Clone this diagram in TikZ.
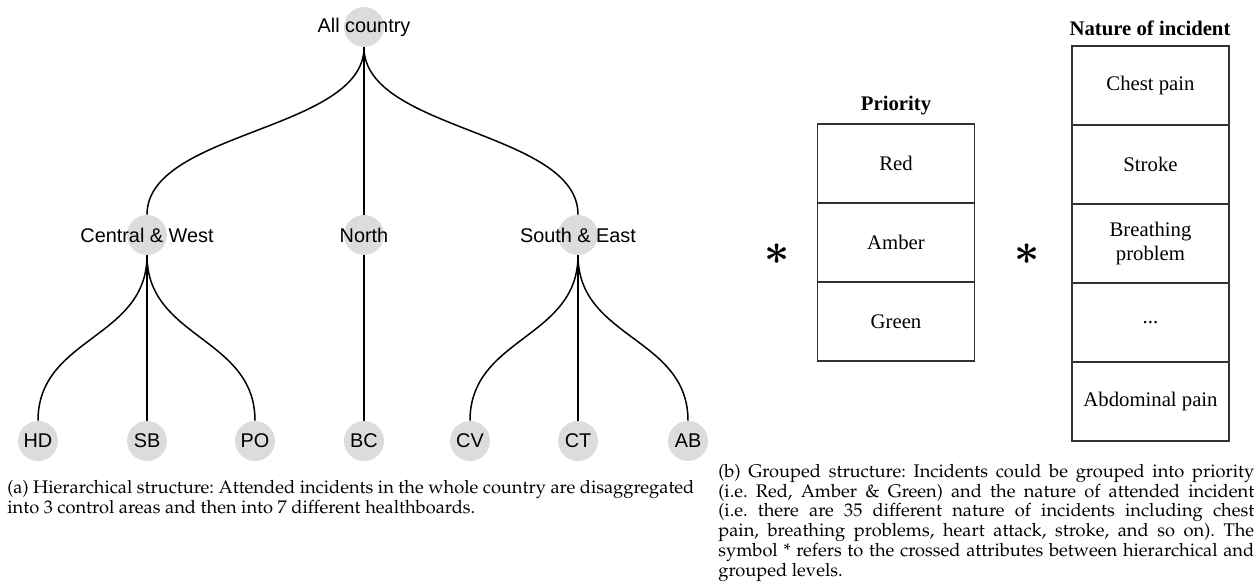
\documentclass[tikz,border=0pt]{standalone}
\usepackage[T1]{fontenc}
\usepackage{fontspec}
\usepackage{bm}
\usetikzlibrary{positioning}
\setmainfont{Liberation Serif}
\newfontfamily\arialfont{Liberation Sans}
\newcommand\palfont{\fontencoding{T1}\fontfamily{ppl}\selectfont\frenchspacing}
\definecolor{dotgray}{RGB}{220,220,220}
\begin{document}
\begin{tikzpicture}
[x=0.02cm,y=-0.02cm,
 dot/.style={circle,fill=dotgray,minimum size=0.8cm,inner sep=0pt},
 lbl/.style={font=\arialfont\fontsize{11.3}{13}\selectfont},
 edge/.style={line width=0.85pt},
 cell/.style={draw=black!80,line width=0.8pt,minimum width=3.14cm,minimum height=1.58cm,outer sep=0pt,align=center,font=\fontsize{11.8}{13.7}\selectfont},
 head/.style={font=\bfseries\fontsize{11.8}{13.7}\selectfont},
 star/.style={font=\fontsize{26}{26}\selectfont},
 capt/.style={inner sep=0pt,font=\palfont\fontsize{10.4}{9.1}\selectfont}]
\useasboundingbox (0,0) rectangle (1260,587);
% hierarchical tree
\node[dot,label={[lbl]center:All country}] (all) at (364,27) {};
\node[dot,label={[lbl]center:Central \& West}] (cw) at (147,235) {};
\node[dot,label={[lbl]center:North}] (no) at (364,235) {};
\node[dot,label={[lbl]center:South \& East}] (se) at (578,235) {};
\node[dot,lbl] (hd) at (38,441) {HD};
\node[dot,lbl] (sb) at (147,441) {SB};
\node[dot,lbl] (po) at (255,441) {PO};
\node[dot,lbl] (bc) at (364,441) {BC};
\node[dot,lbl] (cv) at (470,441) {CV};
\node[dot,lbl] (ct) at (578,441) {CT};
\node[dot,lbl] (ab) at (688,441) {AB};
\foreach \from/\to in {all/cw,all/no,all/se,cw/hd,cw/sb,cw/po,no/bc,se/cv,se/ct,se/ab}
\draw[edge] (\from) .. controls +(0,104) and +(0,-104) .. (\to);
% grouped structure
\node[head] (prio) at (896,106) {Priority};
\node[cell] (red) at (896,163.5) {Red};
\node[cell,below=0pt of red] (amber) {Amber};
\node[cell,below=0pt of amber] (green) {Green};
\node[head] (nature) at (1150,28) {Nature of incident};
\node[cell] (chest) at (1150.5,85.5) {Chest pain};
\node[cell,below=0pt of chest] (stroke) {Stroke};
\node[cell,below=0pt of stroke] (breath) {Breathing\\problem};
\node[cell,below=0pt of breath] (more) {...};
\node[cell,below=0pt of more] (abdo) {Abdominal pain};
\node[star] (star1) at (777,254) {$\bm{\ast}$};
\node[star] (star2) at (1027,254) {$\bm{\ast}$};
% captions
\node[capt,anchor=north west,align=left] (capa) at (7,480)
 {(a) Hierarchical structure: Attended incidents in the whole country are disaggregated\\
  into 3 control areas and then into 7 different healthboards.};
\node[capt,anchor=north west,text width=10.72cm,align=justify] (capb) at (718,464)
 {(b) Grouped structure: Incidents could be grouped into priority\linebreak
  (i.e. Red, Amber \& Green) and the nature of attended incident\linebreak
  (i.e. there are 35 different nature of incidents including chest\linebreak
  pain, breathing problems, heart attack, stroke, and so on). The\linebreak
  symbol * refers to the crossed attributes between hierarchical and\linebreak
  grouped levels.};
\end{tikzpicture}
\end{document}
